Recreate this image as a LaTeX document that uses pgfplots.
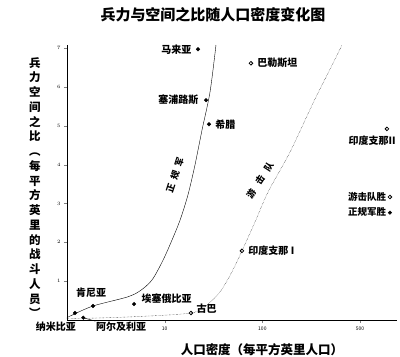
\documentclass[border=0pt]{standalone}
\usepackage{fontspec}
\usepackage{pgfplots}
\pgfplotsset{compat=1.18}
\setmainfont{Noto Sans CJK SC}
\tikzset{lab/.style={font=\fontsize{10}{10}\selectfont\bfseries}}
\begin{document}
\begin{tikzpicture}[x=1pt,y=1pt]
\path[use as bounding box] (0,0) rectangle (400,357);
\node[font=\fontsize{15}{15}\selectfont\bfseries] at (213,342) {兵力与空间之比随人口密度变化图};
\node[font=\fontsize{11.5}{14.75}\selectfont\bfseries, align=center, anchor=north, inner sep=0pt] at (35,300)
  {兵\\力\\空\\间\\之\\比\\︵\\每\\平\\方\\英\\里\\的\\战\\斗\\人\\员\\︶};
\node[font=\fontsize{12.5}{13}\selectfont\bfseries] at (262,7) {人口密度（每平方英里人口）};
\begin{axis}[
  at={(67pt,37pt)}, anchor=south west,
  scale only axis, width=330pt, height=275pt,
  xmin=0, xmax=3.378, ymin=0, ymax=7.08,
  axis lines=left, axis line style={-, line width=0.9pt},
  ytick={1,2,3,4,5,6,7},
  xtick={1,2,3}, xticklabels={10,100,500},
  tick label style={font=\tiny},
  tick align=outside, major tick length=3pt,
  clip=false,
  legend style={draw=none, fill=none, at={(axis cs:3.357,3.40)}, anchor=north east,
    font=\fontsize{9.5}{10}\selectfont\bfseries, row sep=2pt},
  legend plot pos=right, legend cell align=right,
]
% guerrillas win (open)
\addplot[only marks, mark=o, mark size=1.8pt, black, thick] coordinates {
  (1.883,6.61) (3.275,4.92) (1.791,1.78) (1.269,0.18)
};
\addlegendentry{游击队胜}
% regulars win (filled)
\addplot[only marks, mark=*, mark size=1.8pt, black] coordinates {
  (1.341,6.97) (1.423,5.66) (1.453,5.04) (0.686,0.41) (0.266,0.36) (0.167,0.06) (0.082,0.18)
};
\addlegendentry{正规军胜}
% regular army curve
\addplot[smooth, black, thin, forget plot] coordinates {
  (0.000,0.05) (0.031,0.10) (0.266,0.36) (0.614,0.59) (0.747,0.75) (0.870,1.03)
  (0.983,1.54) (1.075,2.06) (1.157,2.57) (1.238,3.22) (1.310,3.99) (1.382,4.89)
  (1.464,5.87) (1.525,7.08)
};
% guerrilla curve
\addplot[smooth, black, densely dotted, forget plot] coordinates {
  (0.000,0.03) (0.645,0.08) (1.269,0.18) (1.433,0.39) (1.566,0.72) (1.689,1.24)
  (1.791,1.78) (1.924,2.52) (2.057,3.29) (2.282,4.32) (2.518,5.58) (2.723,6.61)
  (2.815,7.08)
};
\node[lab, anchor=east] at (axis cs:1.341,6.97) [xshift=-3pt] {马来亚};
\node[lab, anchor=west] at (axis cs:1.883,6.61) [xshift=3pt] {巴勒斯坦};
\node[lab, anchor=east] at (axis cs:1.423,5.66) [xshift=-4pt] {塞浦路斯};
\node[lab, anchor=west] at (axis cs:1.453,5.04) [xshift=3pt] {希腊};
\node[lab, anchor=east] at (axis cs:3.40,4.61) {印度支那II};
\node[lab, anchor=west] at (axis cs:1.791,1.78) [xshift=3pt] {印度支那 I};
\node[lab, anchor=west] at (axis cs:1.269,0.18) [xshift=2pt, yshift=4pt] {古巴};
\node[lab, anchor=west] at (axis cs:0.686,0.41) [xshift=4pt, yshift=5pt] {埃塞俄比亚};
\node[lab] at (axis cs:0.246,0.69) {肯尼亚};
\node[lab] at (axis cs:0.553,-0.18) {阿尔及利亚};
\node[lab] at (axis cs:-0.113,-0.18) {纳米比亚};
\draw[thin] (axis cs:0.29,-0.03) -- (axis cs:0.18,0.05);
\node[rotate=72, font=\fontsize{9}{9}\selectfont\bfseries, inner sep=1pt] at (axis cs:1.105,3.73) {正\hspace{5pt}规\hspace{5pt}军};
\node[rotate=57, font=\fontsize{9}{9}\selectfont\bfseries, inner sep=1pt] at (axis cs:1.975,3.60) {游\hspace{7pt}击\hspace{7pt}队};
\end{axis}
\end{tikzpicture}
\end{document}
